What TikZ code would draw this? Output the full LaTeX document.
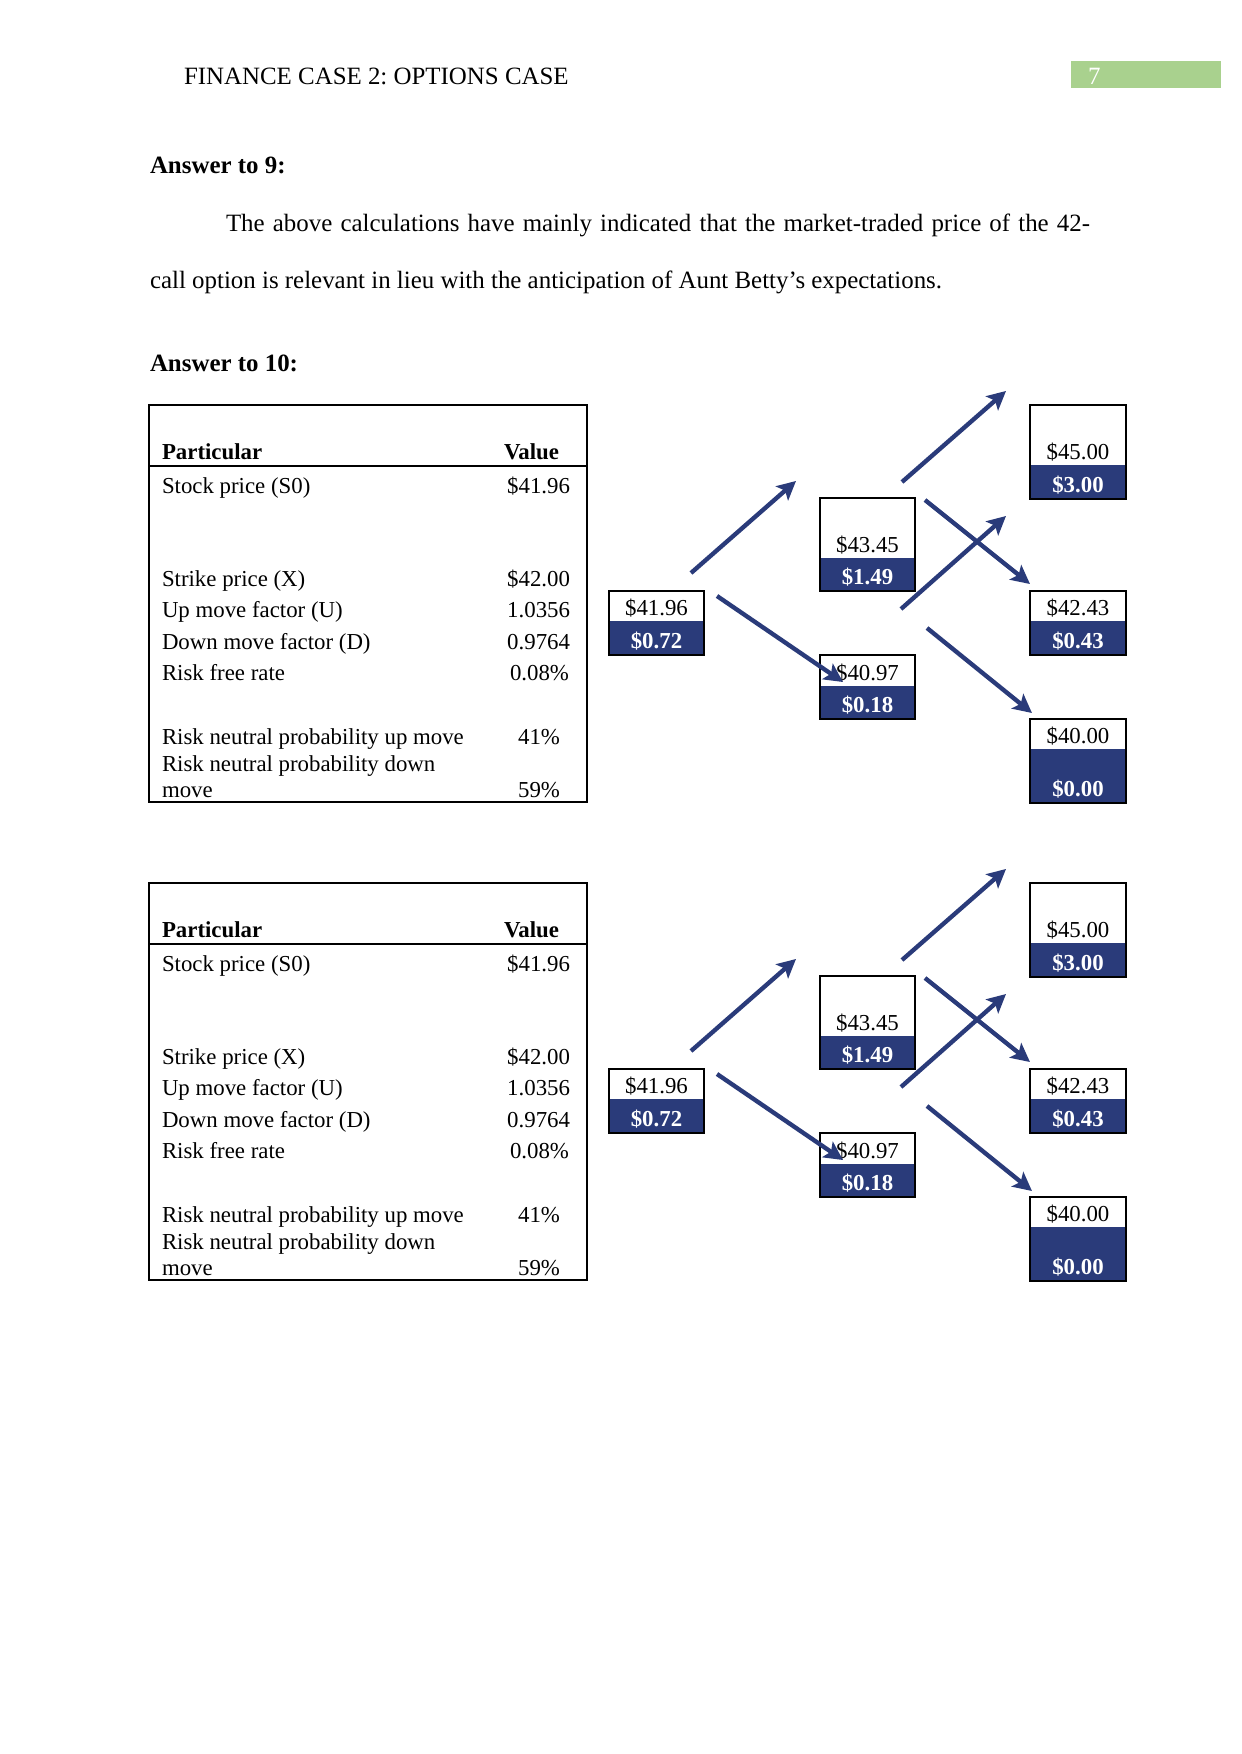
\documentclass[tikz,border=0pt]{standalone}
\usepackage{fontspec}
\setmainfont{Liberation Serif}
\usetikzlibrary{arrows.meta}
\definecolor{navy}{RGB}{42,59,122}
\definecolor{hdrgreen}{RGB}{169,209,142}
\frenchspacing
\newcommand\treebox[8]{%
  \fill[navy] (#2,#5) rectangle (#4,#6);
  \node[draw=black, line width=1.2pt, minimum width={(#4-#2)*0.16933mm}, minimum height={(#6-#3)*0.16933mm}] (#1) at ({(#2+#4)/2},{(#3+#6)/2}) {};
  \node[boxtxt] at ({(#2+#4)/2},{#5-6}) {#7};
  \node[boxtxt, text=white, font=\fontsize{11}{13}\selectfont\bfseries] at ({(#2+#4)/2},{#6-6.5}) {#8};
}
\begin{document}
\begin{tikzpicture}[x={(0.16933mm,0)}, y={(0,-0.16933mm)},
  every node/.style={inner sep=0pt, outer sep=0pt},
  tbl/.style={font=\fontsize{11}{13}\selectfont, anchor=base west},
  tblr/.style={font=\fontsize{11}{13}\selectfont, anchor=base east},
  tblb/.style={font=\fontsize{11}{13}\selectfont\bfseries, anchor=base west},
  boxtxt/.style={font=\fontsize{11}{13}\selectfont, anchor=base},
  body/.style={font=\fontsize{12}{14}\selectfont, anchor=base west},
  arr/.style={navy, line width=2.1pt, -{Stealth[length=9pt,width=9pt,inset=2pt]}}]
\useasboundingbox (0,0) rectangle (1241,1754);
\fill[white] (0,0) rectangle (1241,1754);
% header
\node[body] (hdr) at (184,84) {FINANCE CASE 2: OPTIONS CASE};
\fill[hdrgreen] (1071,61) rectangle (1221,88);
\node[body, text=white] (pg) at (1088,84) {7};
% text
\node[body, font=\fontsize{12}{14}\selectfont\bfseries] (a9) at (150,173) {Answer to 9:};
\node[body] (p1) at (226,231) {\makebox[146.3mm][s]{The above calculations have mainly indicated that the market-traded price of the 42-}};
\node[body] (p2) at (150,288) {call option is relevant in lieu with the anticipation of Aunt Betty’s expectations.};
\node[body, font=\fontsize{12}{14}\selectfont\bfseries] (a10) at (150,371) {Answer to 10:};
\foreach \p/\dy in {u/0, l/478} {
\begin{scope}[shift={(0,\dy)}]
  % table
  \node[draw=black, line width=0.7pt, minimum width={438*0.16933mm}, minimum height={397*0.16933mm}] (\p T) at (368,603.5) {};
  \draw[line width=0.7pt] (\p T.west |- 0,466) -- (\p T.east |- 0,466);
  \node[tblb] (\p h1) at (162,459) {Particular};
  \node[tblb] (\p h2) at (504,459) {Value};
  \node[tbl] (\p r1) at (162,493) {Stock price (S0)};
  \node[tblr] (\p v1) at (570,493) {\$41.96};
  \node[tbl] (\p r2) at (162,586) {Strike price (X)};
  \node[tblr] (\p v2) at (570,586) {\$42.00};
  \node[tbl] (\p r3) at (162,617) {Up move factor (U)};
  \node[tblr] (\p v3) at (570,617) {1.0356};
  \node[tbl] (\p r4) at (162,649) {Down move factor (D)};
  \node[tblr] (\p v4) at (570,649) {0.9764};
  \node[tbl] (\p r5) at (162,680) {Risk free rate};
  \node[tblr] (\p v5) at (569,680) {0.08\%};
  \node[tbl] (\p r6) at (162,744) {Risk neutral probability up move};
  \node[tblr] (\p v6) at (560,744) {41\%};
  \node[tbl] (\p r7) at (162,771) {Risk neutral probability down};
  \node[tbl] (\p r8) at (162,797) {move};
  \node[tblr] (\p v8) at (560,797) {59\%};
  % tree
  \treebox{\p A}{609}{591}{704}{621}{655}{\$41.96}{\$0.72}
  \treebox{\p B}{820}{498}{915}{558}{591}{\$43.45}{\$1.49}
  \treebox{\p C}{820}{655}{915}{686}{719}{\$40.97}{\$0.18}
  \treebox{\p D}{1030}{405}{1126}{465}{499}{\$45.00}{\$3.00}
  \treebox{\p E}{1030}{591}{1126}{621}{655}{\$42.43}{\$0.43}
  \treebox{\p F}{1030}{719}{1126}{749}{803}{\$40.00}{\$0.00}
  \coordinate (\p a1s) at (691,573); \coordinate (\p a1e) at (796,481);
  \coordinate (\p a2s) at (717,596); \coordinate (\p a2e) at (843,682);
  \coordinate (\p a3s) at (902,482); \coordinate (\p a3e) at (1006,391);
  \coordinate (\p a4s) at (925,500); \coordinate (\p a4e) at (1030,584);
  \coordinate (\p a5s) at (901,609); \coordinate (\p a5e) at (1006,516);
  \coordinate (\p a6s) at (927,628); \coordinate (\p a6e) at (1032,713);
  \draw[arr] (\p a1s) -- (\p a1e);
  \draw[arr] (\p a2s) -- (\p a2e);
  \draw[arr] (\p a3s) -- (\p a3e);
  \draw[arr] (\p a4s) -- (\p a4e);
  \draw[arr] (\p a5s) -- (\p a5e);
  \draw[arr] (\p a6s) -- (\p a6e);
\end{scope}
}
\end{tikzpicture}
\end{document}
